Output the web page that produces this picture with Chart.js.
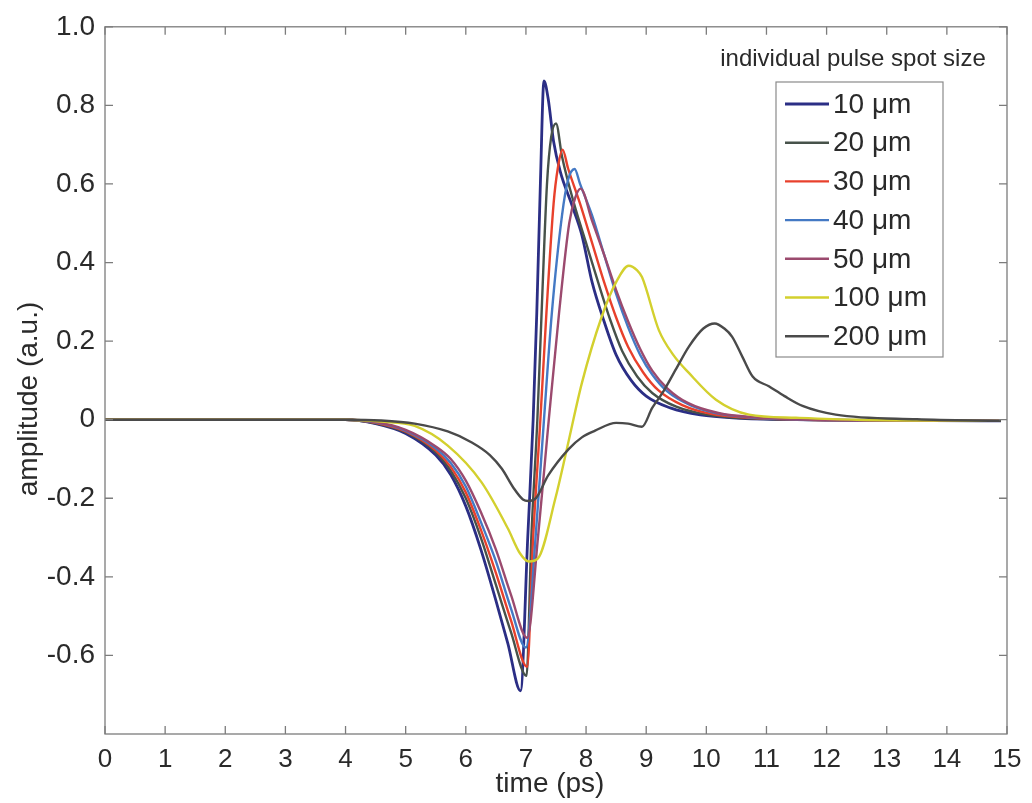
<!DOCTYPE html>
<html>
<head>
<meta charset="utf-8">
<title>THz pulse amplitude</title>
<script src="https://cdn.jsdelivr.net/npm/chart.js@4.4.0/dist/chart.umd.min.js"></script>
<style>
  html, body { margin: 0; padding: 0; background: #fff; }
  #wrap { width: 1032px; height: 803px; }
</style>
</head>
<body>
<div id="wrap"><canvas id="canvas" width="1032" height="803"></canvas></div>
<script>
// spot sizes shown in the legend
const spotLabels = ['10 \u03bcm', '20 \u03bcm', '30 \u03bcm', '40 \u03bcm', '50 \u03bcm', '100 \u03bcm', '200 \u03bcm'];
const lineColors = ['#2b2e85', '#47524a', '#e8412c', '#4479c4', '#9b4a6e', '#d3d02e', '#4a4a4a'];
const lineWidths = [2.8, 2.4, 2.4, 2.4, 2.4, 2.4, 2.4];

// axis ticks
const xTickVals = [0, 1, 2, 3, 4, 5, 6, 7, 8, 9, 10, 11, 12, 13, 14, 15];
const yTickVals = [1.0, 0.8, 0.6, 0.4, 0.2, 0, -0.2, -0.4, -0.6];
const yTickText = ['1.0', '0.8', '0.6', '0.4', '0.2', '0', '-0.2', '-0.4', '-0.6'];

// time (ps) / amplitude (a.u.) per spot size
const t10 = [0, 4, 4.5, 5, 5.5, 5.75, 6, 6.25, 6.5, 6.7, 6.91, 7.03, 7.12, 7.18, 7.24, 7.30, 7.37, 7.46, 7.57, 7.76, 7.93, 8.1, 8.3, 8.5, 8.75, 9.0, 9.4, 9.9, 10.5, 11.5, 14.9];
const a10 = [0, 0, -0.01, -0.035, -0.09, -0.14, -0.22, -0.33, -0.46, -0.57, -0.69, -0.3, 0.0, 0.27, 0.6, 0.862, 0.817, 0.708, 0.632, 0.548, 0.47, 0.35, 0.25, 0.165, 0.10, 0.06, 0.03, 0.012, 0.004, 0, -0.003];

const t20 = [0, 4, 4.5, 5, 5.5, 5.75, 6, 6.25, 6.5, 6.75, 7.01, 7.09, 7.19, 7.26, 7.35, 7.42, 7.50, 7.6, 7.8, 8.0, 8.2, 8.4, 8.6, 8.85, 9.1, 9.5, 10.0, 10.6, 11.6, 14.9];
const a20 = [0, 0, -0.009, -0.032, -0.083, -0.13, -0.2, -0.3, -0.42, -0.54, -0.652, -0.3, 0.0, 0.27, 0.6, 0.72, 0.754, 0.67, 0.55, 0.45, 0.35, 0.255, 0.175, 0.11, 0.068, 0.033, 0.013, 0.004, 0, -0.003];

const t30 = [0, 4, 4.5, 5, 5.5, 5.75, 6, 6.25, 6.5, 6.75, 7.02, 7.12, 7.24, 7.34, 7.46, 7.53, 7.61, 7.7, 7.9, 8.1, 8.3, 8.5, 8.7, 8.95, 9.2, 9.6, 10.1, 10.7, 11.7, 14.9];
const a30 = [0, 0, -0.008, -0.03, -0.078, -0.12, -0.185, -0.28, -0.39, -0.51, -0.629, -0.3, 0.0, 0.27, 0.55, 0.64, 0.687, 0.64, 0.55, 0.45, 0.35, 0.26, 0.185, 0.12, 0.075, 0.037, 0.014, 0.005, 0, -0.003];

const t40 = [0, 4, 4.5, 5, 5.5, 5.75, 6, 6.25, 6.5, 6.75, 7.0, 7.16, 7.3, 7.43, 7.6, 7.7, 7.81, 7.9, 8.1, 8.3, 8.5, 8.7, 8.9, 9.1, 9.35, 9.75, 10.25, 10.8, 11.8, 14.9];
const a40 = [0, 0, -0.007, -0.028, -0.073, -0.11, -0.17, -0.26, -0.36, -0.48, -0.58, -0.3, 0.0, 0.27, 0.52, 0.61, 0.638, 0.6, 0.52, 0.42, 0.32, 0.235, 0.165, 0.115, 0.072, 0.036, 0.014, 0.005, 0, -0.003];

const t50 = [0, 4, 4.5, 5, 5.5, 5.75, 6, 6.25, 6.5, 6.75, 7.02, 7.2, 7.38, 7.55, 7.72, 7.82, 7.91, 8.1, 8.3, 8.5, 8.7, 8.9, 9.1, 9.35, 9.7, 10.2, 10.8, 11.8, 14.9];
const a50 = [0, 0, -0.006, -0.026, -0.068, -0.1, -0.155, -0.235, -0.33, -0.445, -0.555, -0.3, 0.0, 0.27, 0.5, 0.565, 0.588, 0.506, 0.42, 0.33, 0.25, 0.18, 0.125, 0.08, 0.042, 0.017, 0.006, 0, -0.003];

const t100 = [0, 4, 4.59, 5.15, 5.7, 6.26, 6.7, 6.9, 7.05, 7.2, 7.49, 7.68, 7.93, 8.26, 8.5, 8.71, 8.85, 8.93, 9.21, 9.45, 9.71, 10.16, 10.71, 11.49, 12.5, 14.9];
const a100 = [0, 0, -0.005, -0.016, -0.066, -0.159, -0.277, -0.34, -0.361, -0.353, -0.2, -0.075, 0.093, 0.262, 0.35, 0.392, 0.38, 0.363, 0.228, 0.165, 0.119, 0.051, 0.013, 0.005, 0, -0.003];

const t200 = [0, 4, 4.59, 5.15, 5.7, 6.1, 6.4, 6.6, 6.8, 6.95, 7.04, 7.17, 7.37, 7.71, 7.93, 8.15, 8.5, 8.7, 8.93, 9.1, 9.27, 9.5, 9.71, 9.95, 10.14, 10.3, 10.43, 10.6, 10.77, 11.04, 11.3, 11.6, 12.15, 13.5, 14.9];
const a200 = [0, 0, -0.002, -0.01, -0.03, -0.058, -0.09, -0.125, -0.175, -0.203, -0.207, -0.199, -0.142, -0.075, -0.045, -0.028, -0.008, -0.01, -0.018, 0.03, 0.068, 0.13, 0.186, 0.232, 0.245, 0.232, 0.211, 0.16, 0.11, 0.085, 0.06, 0.035, 0.013, 0.001, -0.003];

const series = [[t10, a10], [t20, a20], [t30, a30], [t40, a40], [t50, a50], [t100, a100], [t200, a200]];

const FONT = "'Liberation Sans', Arial, Helvetica, sans-serif";
const TEXT = '#2a2a2a';

const datasets = series.map(([t, a], i) => ({
  label: spotLabels[i],
  data: t.map((v, k) => ({ x: v, y: a[k] })),
  borderColor: lineColors[i],
  borderWidth: lineWidths[i],
  pointRadius: 0,
  fill: false,
  cubicInterpolationMode: 'monotone',
  order: series.length - i   // later spot sizes are drawn over earlier ones
}));

// frame with inward ticks, axis titles and the boxed legend
const framePlugin = {
  id: 'framePlugin',
  afterDraw(chart) {
    const { ctx, chartArea: a, scales: { x, y } } = chart;
    ctx.save();
    ctx.strokeStyle = '#7c7c7c';
    ctx.lineWidth = 1.3;
    ctx.strokeRect(a.left, a.top, a.right - a.left, a.bottom - a.top);
    ctx.beginPath();
    xTickVals.forEach(v => {
      const px = x.getPixelForValue(v);
      ctx.moveTo(px, a.bottom); ctx.lineTo(px, a.bottom - 8);
      ctx.moveTo(px, a.top); ctx.lineTo(px, a.top + 8);
    });
    yTickVals.forEach(v => {
      const py = y.getPixelForValue(v);
      ctx.moveTo(a.left, py); ctx.lineTo(a.left + 8, py);
      ctx.moveTo(a.right, py); ctx.lineTo(a.right - 8, py);
    });
    ctx.stroke();

    // axis titles
    ctx.fillStyle = TEXT;
    ctx.font = '28px ' + FONT;
    ctx.textAlign = 'center';
    ctx.textBaseline = 'middle';
    ctx.fillText('time (ps)', 550, 784);
    ctx.save();
    ctx.translate(29, 399);
    ctx.rotate(-Math.PI / 2);
    ctx.fillText('amplitude (a.u.)', 0, 0);
    ctx.restore();

    // legend title and box
    ctx.font = '24px ' + FONT;
    ctx.fillText('individual pulse spot size', 853, 59);

    const box = { left: 776, top: 82, width: 167, height: 275 };
    ctx.fillStyle = '#fff';
    ctx.fillRect(box.left, box.top, box.width, box.height);
    ctx.strokeStyle = '#8a8a8a';
    ctx.lineWidth = 1.2;
    ctx.strokeRect(box.left, box.top, box.width, box.height);

    ctx.font = '28px ' + FONT;
    ctx.textAlign = 'left';
    chart.data.datasets.forEach((ds, i) => {
      const ly = 104 + i * 38.7;
      ctx.strokeStyle = ds.borderColor;
      ctx.lineWidth = ds.borderWidth;
      ctx.beginPath();
      ctx.moveTo(785, ly);
      ctx.lineTo(829, ly);
      ctx.stroke();
      ctx.fillStyle = TEXT;
      ctx.fillText(ds.label, 833, ly + 1);
    });
    ctx.restore();
  }
};

new Chart(document.getElementById('canvas').getContext('2d'), {
  type: 'line',
  data: { datasets },
  options: {
    responsive: false,
    animation: false,
    layout: { padding: { top: 21, right: 25, left: 0, bottom: 0 } },
    plugins: {
      legend: { display: false },
      tooltip: { enabled: false }
    },
    scales: {
      x: {
        type: 'linear',
        min: 0,
        max: 15,
        grid: { display: false, drawTicks: false },
        border: { display: false },
        afterBuildTicks: scale => { scale.ticks = xTickVals.map(v => ({ value: v })); },
        afterFit: scale => { scale.height = 69; },
        ticks: {
          autoSkip: false,
          maxRotation: 0,
          padding: 10,
          color: TEXT,
          font: { family: FONT, size: 26 },
          callback: v => String(v)
        }
      },
      y: {
        type: 'linear',
        min: -0.8,
        max: 1.0,
        grid: { display: false, drawTicks: false },
        border: { display: false },
        afterBuildTicks: scale => { scale.ticks = yTickVals.map(v => ({ value: v })); },
        afterFit: scale => { scale.width = 105; },
        ticks: {
          autoSkip: false,
          padding: 10,
          color: TEXT,
          font: { family: FONT, size: 28 },
          callback: v => yTickText[yTickVals.findIndex(t => Math.abs(t - v) < 1e-9)]
        }
      }
    }
  },
  plugins: [framePlugin]
});
</script>
</body>
</html>
